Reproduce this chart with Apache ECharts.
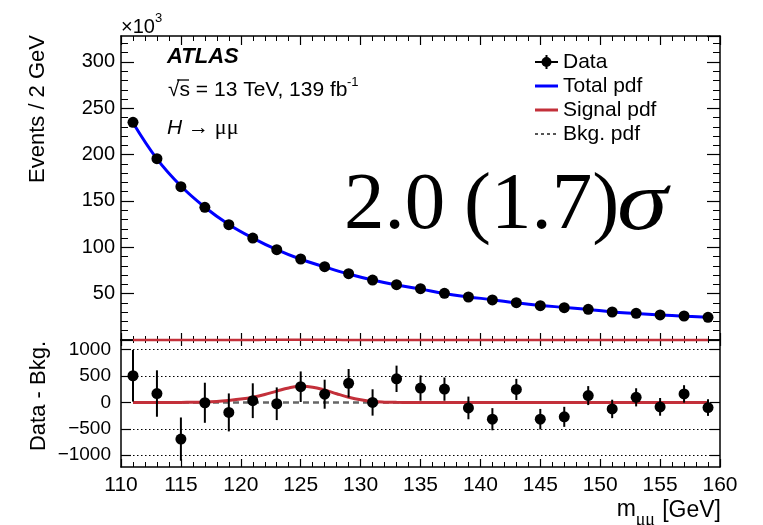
<!DOCTYPE html>
<html>
<head>
<meta charset="utf-8">
<script src="https://cdn.jsdelivr.net/npm/echarts@6/dist/echarts.min.js"></script>
<style>
  html, body { margin: 0; padding: 0; background: #fff; }
  #chart { width: 763px; height: 525px; }
</style>
</head>
<body>
<div id="chart"></div>
<script>
// H -> mumu, m_mumu spectrum with fit, 2 GeV bins
const MASS = [111, 113, 115, 117, 119, 121, 123, 125, 127, 129, 131, 133, 135,
              137, 139, 141, 143, 145, 147, 149, 151, 153, 155, 157, 159];
// events per bin, in units of 10^3
const EVENTS_K = [234.9, 195.6, 165.4, 143.2, 124.4, 110.0, 97.5, 87.4, 79.1, 71.6, 64.7, 59.7, 55.4,
                  50.4, 46.4, 43.2, 40.3, 37.0, 34.9, 33.1, 30.2, 28.8, 27.0, 25.9, 24.5];
const TOTAL_PDF_K = [234.4, 195.4, 166.1, 143.2, 124.6, 110.0, 97.5, 87.1, 78.9, 71.2, 64.7, 59.3, 54.9,
                     50.1, 46.5, 43.5, 40.1, 37.3, 35.2, 33.0, 30.3, 28.7, 27.1, 25.7, 24.6];
// lower panel: data - bkg and its error
const DATA_MINUS_BKG = [506, 169, -695, -6, -189, 33, -25, 298, 156, 364, 0, 448, 273,
                        253, -104, -318, 247, -318, -273, 130, -123, 97, -84, 162, -97];
const DATA_ERR = [490, 440, 410, 380, 360, 330, 310, 290, 275, 270, 250, 250, 240,
                  220, 215, 210, 200, 195, 190, 180, 175, 172, 168, 165, 158];
// signal pdf (events / 2 GeV)
const SIG_MASS = [111, 113, 115, 116, 117, 118, 119, 120, 121, 122, 123, 124, 125,
                  126, 127, 128, 129, 130, 131, 132, 133, 134, 135, 137, 159];
const SIG_PDF = [0, 0, 1, 3, 8, 20, 40, 65, 100, 150, 215, 275, 305,
                 290, 235, 165, 100, 50, 18, 6, 2, 1, 0, 0, 0];
const BKG_MASS = [111, 159];
const BKG_PDF = [0, 0];

const RESID_TICKS = [-1000, -500, 0, 500, 1000];
const RESID_GRID = [1000, 500, -500, -1000];
const TOP_MINOR = [];
for (let v = 10; v <= 320; v += 10) if (v % 50) TOP_MINOR.push(v);

const SANS = 'Liberation Sans';
const SERIF = 'Liberation Serif';
const BLUE = '#0000ff';
const RED = '#c3303a';

const zip = (xs, ys) => xs.map((x, i) => [x, ys[i]]);

const frameLine = { show: true, onZero: false, lineStyle: { color: '#000', width: 1.5 } };

function xAx(grid, pos, major, minor, labels) {
  return {
    type: 'value', gridIndex: grid, position: pos, min: 110, max: 160, interval: 5,
    axisLine: frameLine,
    axisTick: { show: true, inside: true, length: major, lineStyle: { color: '#000', width: 1.2 } },
    minorTick: { show: true, splitNumber: 5, length: minor, lineStyle: { color: '#000', width: 1 } },
    axisLabel: labels
      ? { show: true, color: '#000', fontFamily: SANS, fontSize: 21, margin: 8 }
      : { show: false },
    splitLine: { show: false }
  };
}

const topY = (pos, labels) => ({
  type: 'value', gridIndex: 0, position: pos, min: 0, max: 328, interval: 50,
  axisLine: frameLine,
  axisTick: { show: true, inside: true, length: 13, lineStyle: { color: '#000', width: 1.2 } },
  axisLabel: labels
    ? { show: true, color: '#000', fontFamily: SANS, fontSize: 20, margin: 6,
        showMaxLabel: false, formatter: v => (v === 0 || v % 50 ? '' : String(v)) }
    : { show: false },
  splitLine: { show: false }
});

const topMinorY = pos => ({
  type: 'value', gridIndex: 0, position: pos, min: 0, max: 328,
  axisLine: { show: false },
  axisTick: { show: true, inside: true, length: 7, customValues: TOP_MINOR,
              lineStyle: { color: '#000', width: 1 } },
  axisLabel: { show: false },
  splitLine: { show: false }
});

const lowY = (pos, labels) => ({
  type: 'value', gridIndex: 1, position: pos, min: -1224, max: 1184,
  axisLine: frameLine,
  axisTick: { show: true, inside: true, length: 10, customValues: RESID_TICKS,
              lineStyle: { color: '#000', width: 1.2 } },
  axisLabel: labels
    ? { show: true, color: '#000', fontFamily: SANS, fontSize: 19, margin: 10,
        customValues: RESID_TICKS, formatter: v => String(v).replace('-', '\u2212') }
    : { show: false },
  splitLine: { show: false }
});

function txt(x, y, text, size, extra) {
  return {
    type: 'text', x, y, z: 100,
    style: Object.assign({ text, fill: '#000', fontFamily: SANS, fontSize: size,
                           align: 'left', verticalAlign: 'middle' }, extra || {})
  };
}

const LEG_X0 = 535, LEG_X1 = 558, LEG_TX = 563;
const legend = [
  { type: 'line', shape: { x1: LEG_X0, y1: 62, x2: LEG_X1, y2: 62 }, style: { stroke: '#000', lineWidth: 2 } },
  { type: 'line', shape: { x1: 546.5, y1: 55, x2: 546.5, y2: 69 }, style: { stroke: '#000', lineWidth: 2 } },
  { type: 'circle', shape: { cx: 546.5, cy: 62, r: 5 }, style: { fill: '#000' } },
  txt(LEG_TX, 62, 'Data', 21),
  { type: 'line', shape: { x1: LEG_X0, y1: 86, x2: LEG_X1, y2: 86 }, style: { stroke: BLUE, lineWidth: 3 } },
  txt(LEG_TX, 86, 'Total pdf', 21),
  { type: 'line', shape: { x1: LEG_X0, y1: 110, x2: LEG_X1, y2: 110 }, style: { stroke: RED, lineWidth: 3 } },
  txt(LEG_TX, 110, 'Signal pdf', 21),
  { type: 'line', shape: { x1: LEG_X0, y1: 134, x2: LEG_X1, y2: 134 },
    style: { stroke: '#555', lineWidth: 2, lineDash: [3, 3] } },
  txt(LEG_TX, 134, 'Bkg. pdf', 21)
];

const labels = [
  txt(121, 27, '\u00d710', 20),
  txt(155, 18, '3', 13),
  txt(167, 57, 'ATLAS', 22, { fontWeight: 'bold', fontStyle: 'italic' }),
  txt(168, 90, '\u221as = 13 TeV, 139 fb', 21),
  { type: 'line', z: 100, shape: { x1: 177, y1: 80, x2: 189, y2: 80 }, style: { stroke: '#000', lineWidth: 1.3 } },
  txt(347, 82, '-1', 13),
  txt(167, 128, '{i|H} {n|\u2192} {g|\u03bc\u03bc}', 21, {
    rich: {
      i: { fontFamily: SANS, fontSize: 21, fontStyle: 'italic', fill: '#000' },
      n: { fontFamily: SANS, fontSize: 21, fill: '#000' },
      g: { fontFamily: SERIF, fontSize: 22, fill: '#000' }
    }
  }),
  txt(344, 207, '2.0', 81, { fontFamily: SERIF }),
  txt(464, 207, '(1.7)', 81, { fontFamily: SERIF }),
  Object.assign(txt(617, 207, '\u03c3', 84, { fontFamily: SERIF, fontStyle: 'italic' }), { scaleX: 1.22 }),
  txt(721, 511, '[GeV]', 23, { align: 'right' }),
  txt(655, 520, '\u03bc\u03bc', 18, { align: 'right', fontFamily: SERIF }),
  txt(636, 510, 'm', 23, { align: 'right' }),
  Object.assign(txt(38, 109, 'Events / 2 GeV', 22, { align: 'center' }), { rotation: Math.PI / 2 }),
  Object.assign(txt(39, 396, 'Data - Bkg.', 22, { align: 'center' }), { rotation: Math.PI / 2 })
];

const chart = echarts.init(document.getElementById('chart'), null, { renderer: 'canvas' });
chart.setOption({
  backgroundColor: '#fff',
  animation: false,
  grid: [
    { left: 121, top: 36, width: 599, height: 304 },
    { left: 121, top: 340, width: 599, height: 127 }
  ],
  xAxis: [
    xAx(0, 'bottom', 7, 4, false),
    xAx(0, 'top', 9, 5, false),
    xAx(1, 'bottom', 8, 5, true),
    xAx(1, 'top', 6, 3, false)
  ],
  yAxis: [
    topY('left', true),
    topY('right', false),
    lowY('left', true),
    lowY('right', false),
    topMinorY('left'),
    topMinorY('right')
  ],
  series: [
    {
      name: 'Signal pdf (top)', type: 'line', xAxisIndex: 0, yAxisIndex: 0,
      data: zip(SIG_MASS, SIG_PDF.map(v => v / 1000)), smooth: 0.4, showSymbol: false,
      clip: false, lineStyle: { color: RED, width: 2.5 }, z: 3
    },
    {
      name: 'Total pdf', type: 'line', xAxisIndex: 0, yAxisIndex: 0,
      data: zip(MASS, TOTAL_PDF_K), smooth: 0.4, showSymbol: false,
      lineStyle: { color: BLUE, width: 3 }, z: 4
    },
    {
      name: 'Data', type: 'scatter', xAxisIndex: 0, yAxisIndex: 0,
      data: zip(MASS, EVENTS_K), symbol: 'circle', symbolSize: 11,
      itemStyle: { color: '#000', opacity: 1 }, z: 6
    },
    {
      name: 'Bkg. pdf', type: 'line', xAxisIndex: 2, yAxisIndex: 2,
      data: zip(BKG_MASS, BKG_PDF), showSymbol: false,
      lineStyle: { color: '#666', width: 2.5, type: [6, 4] }, z: 2,
      markLine: {
        silent: true, symbol: 'none', label: { show: false },
        lineStyle: { color: '#000', width: 1, type: [1.5, 2.5] },
        data: RESID_GRID.map(v => ({ yAxis: v }))
      }
    },
    {
      name: 'Signal pdf', type: 'line', xAxisIndex: 2, yAxisIndex: 2,
      data: zip(SIG_MASS, SIG_PDF), smooth: 0.4, showSymbol: false,
      lineStyle: { color: RED, width: 3 }, z: 3
    },
    {
      name: 'Data errors', type: 'custom', xAxisIndex: 2, yAxisIndex: 2,
      data: MASS.map((m, i) => [m, DATA_MINUS_BKG[i], DATA_ERR[i]]),
      encode: { x: 0, y: 1 },
      renderItem: (params, api) => {
        const x = api.value(0), v = api.value(1), e = api.value(2);
        const hi = api.coord([x, v + e]);
        const lo = api.coord([x, v - e]);
        return { type: 'line', shape: { x1: hi[0], y1: hi[1], x2: lo[0], y2: lo[1] },
                 style: { stroke: '#000', lineWidth: 2 } };
      },
      z: 5
    },
    {
      name: 'Data - Bkg.', type: 'scatter', xAxisIndex: 2, yAxisIndex: 2,
      data: zip(MASS, DATA_MINUS_BKG), symbol: 'circle', symbolSize: 11,
      itemStyle: { color: '#000', opacity: 1 }, z: 6
    }
  ],
  graphic: legend.concat(labels)
});
</script>
</body>
</html>
